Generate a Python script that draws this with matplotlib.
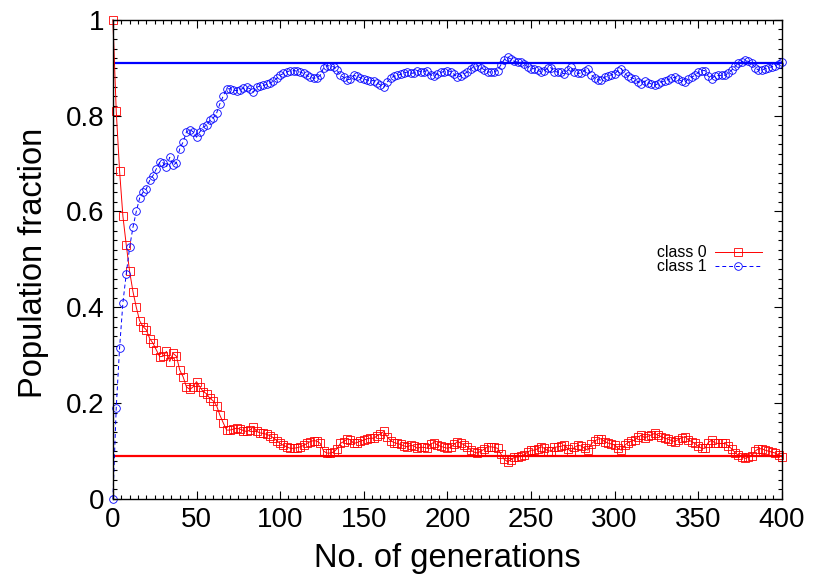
import numpy as np
import matplotlib
matplotlib.use("Agg")
import matplotlib.pyplot as plt
from matplotlib.ticker import MultipleLocator, FuncFormatter

plt.rcParams['font.family'] = ['Liberation Sans', 'DejaVu Sans']

# generations, sampled every 2
gens = np.arange(0, 401, 2)

# fraction of class 0 (red squares)
class0 = [
    1.0, 0.81, 0.685, 0.59, 0.53, 0.475, 0.433, 0.40, 0.372, 0.36,
    0.353, 0.335, 0.325, 0.311, 0.297, 0.298, 0.308, 0.287, 0.304, 0.298,
    0.269, 0.255, 0.234, 0.229, 0.234, 0.245, 0.234, 0.224, 0.220, 0.210,
    0.205, 0.195, 0.175, 0.159, 0.144, 0.144, 0.146, 0.148, 0.146, 0.143,
    0.141, 0.144, 0.151, 0.141, 0.138, 0.137, 0.135, 0.132, 0.128, 0.122,
    0.116, 0.112, 0.109, 0.106, 0.106, 0.107, 0.109, 0.112, 0.116, 0.120,
    0.122, 0.121, 0.116, 0.100, 0.096, 0.096, 0.098, 0.105, 0.116, 0.120,
    0.125, 0.124, 0.116, 0.118, 0.121, 0.123, 0.126, 0.127, 0.127, 0.132,
    0.136, 0.141, 0.130, 0.122, 0.118, 0.116, 0.114, 0.111, 0.109, 0.112,
    0.111, 0.106, 0.108, 0.108, 0.106, 0.115, 0.118, 0.113, 0.110, 0.108,
    0.106, 0.108, 0.114, 0.120, 0.117, 0.113, 0.109, 0.102, 0.098, 0.096,
    0.100, 0.104, 0.109, 0.109, 0.108, 0.106, 0.094, 0.083, 0.078, 0.082,
    0.087, 0.088, 0.089, 0.093, 0.098, 0.102, 0.102, 0.105, 0.109, 0.106,
    0.101, 0.100, 0.108, 0.109, 0.110, 0.113, 0.105, 0.099, 0.108, 0.112,
    0.111, 0.106, 0.102, 0.115, 0.121, 0.125, 0.126, 0.120, 0.117, 0.115,
    0.113, 0.106, 0.102, 0.112, 0.118, 0.121, 0.123, 0.130, 0.133, 0.128,
    0.131, 0.134, 0.137, 0.133, 0.130, 0.127, 0.125, 0.122, 0.120, 0.124,
    0.128, 0.130, 0.124, 0.120, 0.116, 0.110, 0.106, 0.106, 0.118, 0.123,
    0.117, 0.116, 0.116, 0.116, 0.111, 0.105, 0.097, 0.091, 0.088, 0.085,
    0.087, 0.090, 0.100, 0.105, 0.105, 0.102, 0.100, 0.098, 0.096, 0.092,
    0.088,
]

# fraction of class 1 (blue circles)
class1 = [
    0.0, 0.19, 0.315, 0.41, 0.47, 0.525, 0.567, 0.60, 0.628, 0.64,
    0.647, 0.665, 0.675, 0.689, 0.703, 0.702, 0.692, 0.713, 0.696, 0.702,
    0.731, 0.745, 0.766, 0.771, 0.766, 0.755, 0.766, 0.776, 0.780, 0.790,
    0.795, 0.805, 0.825, 0.841, 0.856, 0.856, 0.854, 0.852, 0.854, 0.857,
    0.859, 0.856, 0.849, 0.859, 0.862, 0.863, 0.865, 0.868, 0.872, 0.878,
    0.884, 0.888, 0.891, 0.894, 0.894, 0.893, 0.891, 0.888, 0.884, 0.880,
    0.878, 0.879, 0.884, 0.900, 0.904, 0.904, 0.902, 0.895, 0.884, 0.880,
    0.875, 0.876, 0.884, 0.882, 0.879, 0.877, 0.874, 0.873, 0.873, 0.868,
    0.864, 0.859, 0.870, 0.878, 0.882, 0.884, 0.886, 0.889, 0.891, 0.888,
    0.889, 0.894, 0.892, 0.892, 0.894, 0.885, 0.882, 0.887, 0.890, 0.892,
    0.894, 0.892, 0.886, 0.880, 0.883, 0.887, 0.891, 0.898, 0.902, 0.904,
    0.900, 0.896, 0.891, 0.891, 0.892, 0.894, 0.906, 0.917, 0.922, 0.918,
    0.913, 0.912, 0.911, 0.907, 0.902, 0.898, 0.898, 0.895, 0.891, 0.894,
    0.899, 0.900, 0.892, 0.891, 0.890, 0.887, 0.895, 0.901, 0.892, 0.888,
    0.889, 0.894, 0.898, 0.885, 0.879, 0.875, 0.874, 0.880, 0.883, 0.885,
    0.887, 0.894, 0.898, 0.888, 0.882, 0.879, 0.877, 0.870, 0.867, 0.872,
    0.869, 0.866, 0.863, 0.867, 0.870, 0.873, 0.875, 0.878, 0.880, 0.876,
    0.872, 0.870, 0.876, 0.880, 0.884, 0.890, 0.894, 0.894, 0.882, 0.877,
    0.883, 0.884, 0.884, 0.884, 0.889, 0.895, 0.903, 0.909, 0.912, 0.915,
    0.913, 0.910, 0.900, 0.895, 0.895, 0.898, 0.900, 0.902, 0.904, 0.908,
    0.912,
]

# equilibrium levels
eq0 = 0.0909
eq1 = 0.9091

fig = plt.figure(figsize=(8.3, 5.81), dpi=100)
ax = fig.add_axes([0.136, 0.141, 0.806, 0.825])

ax.axhline(eq1, color='#0000ff', lw=1.6, zorder=1)
ax.axhline(eq0, color='#ff0000', lw=1.6, zorder=1)

ax.plot(gens, class0, color='#ff0000', lw=0.7, marker='s', ms=5.5,
        mfc='none', mec='#ff0000', mew=0.6, label='class 0', clip_on=False)
ax.plot(gens, class1, color='#0000ff', lw=0.7, ls=(0, (4, 3)), marker='o',
        ms=5.5, mfc='none', mec='#0000ff', mew=0.6, label='class 1',
        clip_on=False)

ax.set_xlim(0, 400)
ax.set_ylim(0, 1)

ax.xaxis.set_major_locator(MultipleLocator(50))
ax.xaxis.set_minor_locator(MultipleLocator(5))
ax.yaxis.set_major_locator(MultipleLocator(0.2))
ax.yaxis.set_minor_locator(MultipleLocator(0.02))
ax.yaxis.set_major_formatter(FuncFormatter(lambda v, p: '%g' % round(v, 2)))

ax.tick_params(which='both', direction='in', top=True, right=True,
               width=0.8, colors='black')
ax.tick_params(which='major', length=6, labelsize=20, pad=6)
ax.tick_params(which='minor', length=3)
for s in ax.spines.values():
    s.set_linewidth(1.0)

ax.set_xlabel('No. of generations', fontsize=23.5, labelpad=7)
ax.set_ylabel('Population fraction', fontsize=23.5)
ax.yaxis.set_label_coords(-0.096, 0.493)

ax.legend(loc='center right', bbox_to_anchor=(0.98, 0.499), frameon=False,
          markerfirst=False, fontsize=11.4, handlelength=3.0,
          handletextpad=0.5, labelspacing=-0.05, borderaxespad=0)

fig.savefig('out.png', dpi=100)
